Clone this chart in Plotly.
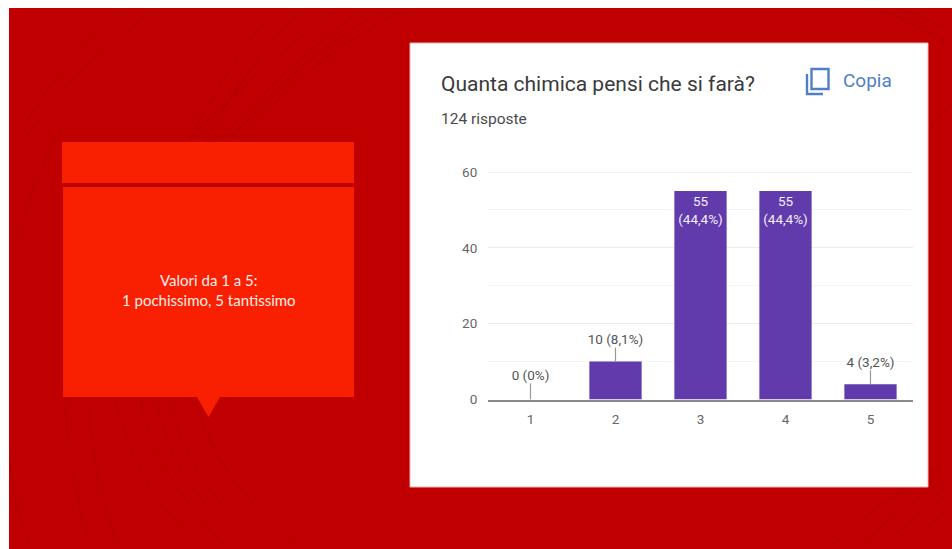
import plotly.graph_objects as go

W, H = 952, 549

categories = ["1", "2", "3", "4", "5"]
counts = [0, 10, 55, 55, 4]
inside_labels = ["", "", "55<br>(44,4%)", "55<br>(44,4%)", ""]
outside_labels = ["0 (0%)", "10 (8,1%)", "", "", "4 (3,2%)"]
leader_lengths = [4.2, 3.7, 0, 0, 3.7]
y_ticks = [0, 20, 40, 60]
inside_label_drop = 1.3

RED = "#C00000"
CURVE = "#B40000"
BOX = "#F82000"
PURPLE = "#613BAC"
BLUE = "#4F80C6"
DARK = "#3A3A3A"
GREY = "#666666"


def px(x):
    return x / W


def py(y):
    return 1 - y / H


def path(*pts):
    """Quadratic curve path given (x0,y0),(cx,cy),(x1,y1) in page pixels."""
    a, c, b = pts
    return f"M {px(a[0])} {py(a[1])} Q {px(c[0])} {py(c[1])} {px(b[0])} {py(b[1])}"


def rect(x0, y0, x1, y1, fill, line=None):
    return dict(type="rect", xref="paper", yref="paper", layer="below",
                x0=px(x0), x1=px(x1), y0=py(y1), y1=py(y0), fillcolor=fill,
                line=dict(color=line, width=1) if line else dict(width=0))


curves = [
    ((157, 9), (80, 60), (24, 140)), ((126, 9), (60, 60), (22, 130)),
    ((62, 130), (35, 170), (18, 240)),
    ((300, 12), (250, 60), (205, 142)), ((270, 14), (225, 70), (188, 142)),
    ((337, 9), (255, 70), (188, 142)), ((363, 9), (280, 70), (217, 142)),
    ((407, 9), (310, 55), (240, 142)), ((385, 9), (295, 60), (228, 142)),
    ((65, 397), (68, 470), (90, 548)), ((88, 397), (92, 480), (118, 548)),
    ((115, 397), (130, 480), (200, 548)), ((140, 397), (155, 480), (230, 548)),
    ((155, 397), (170, 480), (248, 548)), ((170, 397), (185, 480), (265, 548)),
    ((195, 397), (215, 480), (300, 548)),
    ((10, 460), (15, 510), (30, 548)),
    ((951, 462), (885, 495), (830, 548)), ((951, 478), (900, 505), (858, 548)),
    ((951, 492), (915, 515), (880, 548)), ((951, 510), (925, 525), (905, 548)),
    ((895, 9), (925, 15), (951, 32)), ((875, 9), (915, 22), (951, 48)),
    ((929, 130), (940, 115), (951, 105)),
]

shapes = [rect(9, 8, W, H, RED)]
shapes += [dict(type="path", xref="paper", yref="paper", layer="below",
                path=path(*c), line=dict(color=CURVE, width=1.4)) for c in curves]
shapes += [
    rect(62, 142, 354, 183, BOX),
    rect(63, 187, 354, 397, BOX),
    dict(type="path", xref="paper", yref="paper", layer="below",
         path=f"M {px(197)} {py(397)} L {px(220)} {py(397)} L {px(208.5)} {py(417)} Z",
         fillcolor=BOX, line=dict(width=0)),
    rect(410, 43, 928, 487, "#FFFFFF", "#E9B5B5"),
    # top gridline, which plotly leaves out at the edge of the range
    dict(type="line", xref="x domain", yref="y", x0=0, x1=1, y0=y_ticks[-1], y1=y_ticks[-1],
         layer="below", line=dict(color="#EBEBEB", width=1.5)),
    # copy icon
    dict(type="rect", xref="paper", yref="paper", x0=px(811.5), x1=px(828.5),
         y0=py(89), y1=py(69), line=dict(color=BLUE, width=2.4)),
    dict(type="path", xref="paper", yref="paper",
         path=f"M {px(807)} {py(74)} L {px(807)} {py(94)} L {px(823)} {py(94)}",
         line=dict(color=BLUE, width=2.4)),
]


def note(x, y, text, size, color, family="Roboto", anchor="left"):
    return dict(xref="paper", yref="paper", x=px(x), y=py(y), text=text, showarrow=False,
                xanchor=anchor, yanchor="middle", align="center",
                font=dict(family=family, size=size, color=color))


annotations = [
    note(439, 84, "Quanta chimica pensi che si farà?", 21, DARK),
    note(841, 81, "Copia", 19, BLUE),
    note(439, 118.5, "124 risposte", 15.5, "#4A4A4A"),
    note(208.5, 290, "Valori da 1 a 5:<br>1 pochissimo, 5 tantissimo", 15, "#FFECE8",
         family="Lato", anchor="center"),
]

fig = go.Figure()
fig.add_bar(
    x=categories, y=counts, marker=dict(color=PURPLE, line=dict(width=0)), width=0.615,
    error_y=dict(type="data", symmetric=False, array=leader_lengths,
                 arrayminus=[0] * 5, color="#999999", thickness=1.2, width=0),
    hoverinfo="skip",
)
fig.add_scatter(x=categories, y=[c - inside_label_drop for c in counts], mode="text",
                text=inside_labels, textposition="bottom center", cliponaxis=False,
                textfont=dict(family="Roboto", size=13.5, color="#F2EEFA"), hoverinfo="skip")
fig.add_scatter(x=categories, y=[c + l for c, l in zip(counts, leader_lengths)], mode="text",
                text=outside_labels, textposition="top center", cliponaxis=False,
                textfont=dict(family="Roboto", size=13.5, color="#555555"), hoverinfo="skip")

fig.update_layout(
    width=W, height=H, margin=dict(l=0, r=0, t=0, b=0, autoexpand=False), paper_bgcolor="#FFFFFF",
    plot_bgcolor="rgba(0,0,0,0)", showlegend=False, shapes=shapes, annotations=annotations,
    xaxis=dict(domain=[px(488), px(913)], type="category", range=[-0.5, 4.5], showgrid=False,
               showline=True, linecolor="#8A8A8A", linewidth=1.5, ticks="outside", ticklen=7,
               tickcolor="rgba(0,0,0,0)", tickfont=dict(family="Roboto", size=13.5, color=GREY),
               fixedrange=True, zeroline=False),
    yaxis=dict(domain=[py(399.5), py(172)], range=[0, 60], tickvals=y_ticks, showline=False,
               zeroline=False, gridcolor="#EBEBEB", gridwidth=1, ticks="outside", ticklen=7,
               tickcolor="rgba(0,0,0,0)", tickfont=dict(family="Roboto", size=13.5, color=GREY),
               minor=dict(tickvals=[10, 30, 50], showgrid=True, gridcolor="#F5F5F5", gridwidth=1),
               fixedrange=True),
)
fig.write_html("out.html", config=dict(displayModeBar=False),
               post_script="document.body.style.margin='0';")
